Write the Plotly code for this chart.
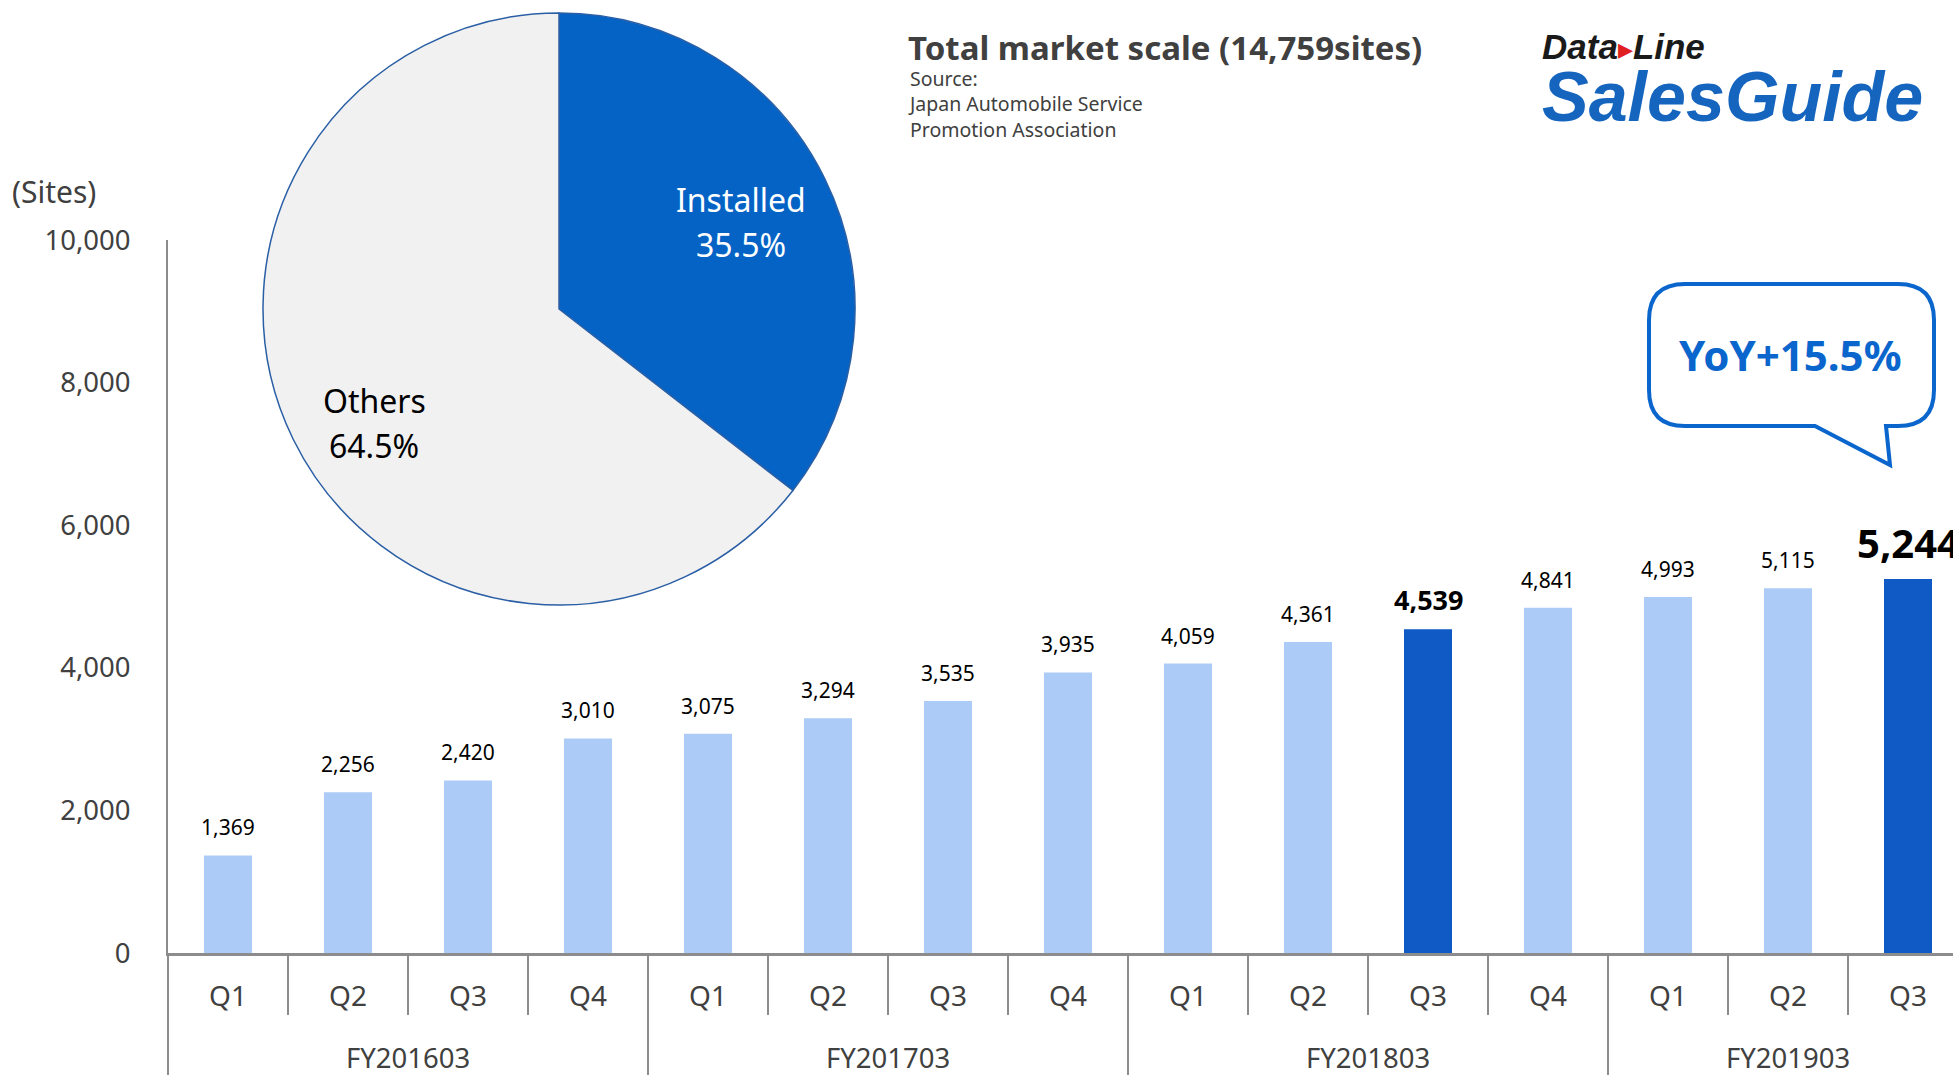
import plotly.graph_objects as go

# ---------------- data ----------------
quarters = ["Q1", "Q2", "Q3", "Q4", "Q1", "Q2", "Q3", "Q4", "Q1", "Q2", "Q3", "Q4", "Q1", "Q2", "Q3"]
fiscal_years = ["FY201603"] * 4 + ["FY201703"] * 4 + ["FY201803"] * 4 + ["FY201903"] * 3
sites = [1369, 2256, 2420, 3010, 3075, 3294, 3535, 3935, 4059, 4361, 4539, 4841, 4993, 5115, 5244]
highlight = [False] * 10 + [True] + [False] * 3 + [True]
y_ticks = [0, 2000, 4000, 6000, 8000, 10000]

pie_labels = ["Installed", "Others"]
pie_values = [35.5, 64.5]

title_text = "Total market scale (14,759sites)"
source_text = "Source:<br>Japan Automobile Service<br>Promotion Association"
yoy_text = "YoY+15.5%"

# ---------------- styling ----------------
W, H = 1953, 1075
FONT = "Noto Sans"
LIGHT = "#ADCBF7"
DARK = "#0F5AC4"
AXIS = "#8C8C8C"
TXT = "#404040"


def px(x):
    return x / W


def py(y):
    return 1 - y / H


def note(x, y, text, size, color, family=FONT, xanchor="center", align="center"):
    return dict(x=px(x), y=py(y), xref="paper", yref="paper", text=text, showarrow=False,
                xanchor=xanchor, yanchor="middle", align=align,
                font=dict(family=family, size=size, color=color))


x_idx = list(range(len(sites)))
bar_colors = [DARK if h else LIGHT for h in highlight]

fig = go.Figure()

fig.add_trace(go.Bar(
    x=x_idx, y=sites, width=0.4,
    marker=dict(color=bar_colors, line=dict(width=0)),
    hoverinfo="skip",
))

fig.add_trace(go.Pie(
    values=pie_values, labels=pie_labels, sort=False, direction="clockwise",
    rotation=0, textinfo="none", hoverinfo="skip", automargin=False,
    marker=dict(colors=["#0563C6", "#F1F1F1"], line=dict(color="#2A5FA5", width=1.5)),
    domain=dict(x=[px(263), px(855)], y=[py(605), py(13)]),
))

annotations = []
# bar value labels
for i, (v, h) in enumerate(zip(sites, highlight)):
    if h:
        last = i == len(sites) - 1
        size = 40 if last else 27
        shift = 37 if last else 30
        txt = "<b>{:,}</b>".format(v)
    else:
        size, shift, txt = 21, 28, "{:,}".format(v)
    annotations.append(dict(
        x=i, y=v, xref="x", yref="y", text=txt, showarrow=False,
        yanchor="middle", xanchor="center", yshift=shift,
        font=dict(family=FONT, size=size, color="#000000"),
    ))

# fiscal year group labels
groups = []
for i, fy in enumerate(fiscal_years):
    if not groups or groups[-1][0] != fy:
        groups.append([fy, []])
    groups[-1][1].append(i)
for fy, idx in groups:
    annotations.append(dict(
        x=sum(idx) / len(idx), y=py(1057), xref="x", yref="paper", text=fy,
        showarrow=False, yanchor="middle", xanchor="center",
        font=dict(family=FONT, size=27.5, color=TXT),
    ))

logo_text = (
    "<span style='font-size:35px;color:#1A1A1A'><b><i>Data</i></b></span>"
    "<span style='font-size:30px;color:#E02020'>▸</span>"
    "<span style='font-size:35px;color:#1A1A1A'><b><i>Line</i></b></span>"
    "<br><span style='font-size:70px;color:#1565BF'><b><i>SalesGuide</i></b></span>"
)

annotations += [
    note(54, 192, "(Sites)", 30, TXT),
    note(906, 47, "<b>" + title_text + "</b>", 33, TXT, xanchor="left"),
    note(906, 104, source_text, 19.5, TXT, xanchor="left", align="left"),
    note(741, 199, "Installed", 32, "#FFFFFF"),
    note(741, 245, "35.5%", 32, "#FFFFFF"),
    note(374, 401, "Others", 32, "#000000"),
    note(374, 446, "64.5%", 32, "#000000"),
    note(1790, 354, "<b>" + yoy_text + "</b>", 42, "#0A66CC"),
    note(1540, 82, logo_text, 48, "#1A1A1A", family="Liberation Sans", xanchor="left", align="left"),
]

# ---------------- shapes ----------------
shapes = []
# y-axis line extension down through the category label area
shapes.append(dict(type="line", xref="paper", yref="paper", x0=px(168), x1=px(168),
                   y0=py(953), y1=0, line=dict(color=AXIS, width=2)))
# dividers between quarters (short) and fiscal years (long)
for i in range(len(sites) - 1):
    long_div = fiscal_years[i] != fiscal_years[i + 1]
    shapes.append(dict(type="line", xref="x", yref="paper", x0=i + 0.5, x1=i + 0.5,
                       y0=py(953), y1=0 if long_div else py(1015),
                       line=dict(color=AXIS, width=2)))

# speech bubble
L, R, T, B, r = 1649, 1934, 284, 426, 36
t0, tip_x, tip_y, t1 = 1815, 1890, 465, 1886
path = (
    f"M {px(L + r)} {py(T)} L {px(R - r)} {py(T)} Q {px(R)} {py(T)} {px(R)} {py(T + r)} "
    f"L {px(R)} {py(B - r)} Q {px(R)} {py(B)} {px(R - r)} {py(B)} "
    f"L {px(t1)} {py(B)} L {px(tip_x)} {py(tip_y)} L {px(t0)} {py(B)} "
    f"L {px(L + r)} {py(B)} Q {px(L)} {py(B)} {px(L)} {py(B - r)} "
    f"L {px(L)} {py(T + r)} Q {px(L)} {py(T)} {px(L + r)} {py(T)} Z"
)
shapes.append(dict(type="path", xref="paper", yref="paper", path=path, layer="below",
                   line=dict(color="#0A66CC", width=4), fillcolor="rgba(255,255,255,1)"))

fig.update_layout(
    template="none",
    width=W, height=H, margin=dict(l=0, r=0, t=0, b=0, autoexpand=False),
    paper_bgcolor="white", plot_bgcolor="white", showlegend=False,
    font=dict(family=FONT, color=TXT),
    xaxis=dict(
        domain=[px(168), 1], range=[-0.5, -0.5 + (W - 168) / 120.0],
        tickmode="array", tickvals=x_idx, ticktext=quarters, automargin=False,
        ticks="", showline=True, linecolor=AXIS, linewidth=3,
        showgrid=False, zeroline=False, ticklabelstandoff=16,
        tickfont=dict(family=FONT, size=28, color=TXT),
    ),
    yaxis=dict(
        domain=[py(953), py(240)], range=[0, 10000], automargin=False,
        tickmode="array", tickvals=y_ticks, tickformat=",d",
        ticks="", showline=True, linecolor=AXIS, linewidth=2,
        showgrid=False, zeroline=False, ticklabelstandoff=30,
        tickfont=dict(family=FONT, size=27.5, color=TXT),
    ),
    annotations=annotations,
    shapes=shapes,
)

fig.write_html("out.html")
